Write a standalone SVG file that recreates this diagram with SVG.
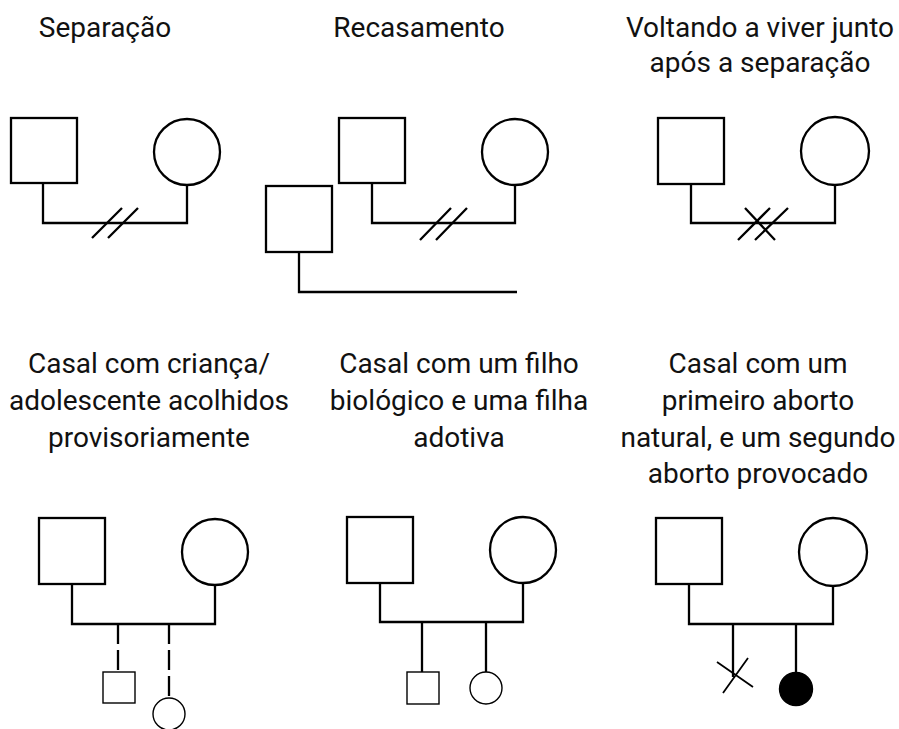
<svg xmlns="http://www.w3.org/2000/svg" width="899" height="729" viewBox="0 0 899 729">
<style>
  .bg{fill:#ffffff}
  .t{font-family:Roboto,"Open Sans","DejaVu Sans",sans-serif;font-size:28px;fill:#111111;text-anchor:middle}
  .n{fill:#ffffff;stroke:#000000;stroke-width:2.3}
  .c{fill:#ffffff;stroke:#000000;stroke-width:1.4}
  .f{fill:#000000;stroke:#000000;stroke-width:1.4}
  .l{fill:none;stroke:#000000;stroke-width:2.3}
  .d{fill:none;stroke:#000000;stroke-width:2.3;stroke-dasharray:20 6}
  .m{fill:none;stroke:#000000;stroke-width:1.8}
</style>
<rect class="bg" x="0" y="0" width="899" height="729"/>
<g id="labels">
  <text class="t" x="105" y="37">Separação</text>
  <text class="t" x="419" y="37">Recasamento</text>
  <text class="t" x="760" y="37">Voltando a viver junto</text>
  <text class="t" x="760" y="72">após a separação</text>
  <text class="t" x="149" y="373">Casal com criança/</text>
  <text class="t" x="149" y="410">adolescente acolhidos</text>
  <text class="t" x="149" y="447">provisoriamente</text>
  <text class="t" x="459" y="373">Casal com um filho</text>
  <text class="t" x="459" y="410">biológico e uma filha</text>
  <text class="t" x="459" y="447">adotiva</text>
  <text class="t" x="758" y="373">Casal com um</text>
  <text class="t" x="758" y="410">primeiro aborto</text>
  <text class="t" x="758" y="447">natural, e um segundo</text>
  <text class="t" x="758" y="483">aborto provocado</text>
</g>
<g id="connectors">
  <path class="l" d="M43,183 V223 H187 V185"/>
  <path class="l" d="M92,238 L122,208 M108,238 L138,208"/>
  <path class="l" d="M372,183 V223 H515 V185"/>
  <path class="l" d="M420,240 L451,208 M436,240 L467,208"/>
  <path class="l" d="M299,252 V292 H517"/>
  <path class="l" d="M691,184 V223 H835 V185"/>
  <path class="l" d="M738,240 L770,208 M745,208 L775,240 M755,240 L788,208"/>
  <path class="l" d="M72,584 V624 H215 V585"/>
  <path class="d" d="M118,624 V672"/>
  <path class="d" d="M169,624 V698"/>
  <path class="l" d="M380,583 V622 H523 V583"/>
  <path class="l" d="M422,622 V672"/>
  <path class="l" d="M486,622 V672"/>
  <path class="l" d="M689,584 V624 H833 V586"/>
  <path class="l" d="M733,624 V677"/>
  <path class="l" d="M796,624 V673"/>
</g>
<g id="sep-man"><rect class="n" x="11" y="118" width="66" height="65"/></g>
<g id="sep-woman"><circle class="n" cx="187" cy="152" r="33"/></g>
<g id="rec-man"><rect class="n" x="339" y="118" width="66" height="65"/></g>
<g id="rec-woman"><circle class="n" cx="515" cy="152" r="33"/></g>
<g id="rec-newman"><rect class="n" x="266" y="186" width="66" height="66"/></g>
<g id="volt-man"><rect class="n" x="658" y="118" width="66" height="66"/></g>
<g id="volt-woman"><circle class="n" cx="835" cy="151" r="34"/></g>
<g id="fost-man"><rect class="n" x="39" y="518" width="66" height="66"/></g>
<g id="fost-woman"><circle class="n" cx="215" cy="552" r="33"/></g>
<g id="fost-boy"><rect class="c" x="103" y="672" width="32" height="31"/></g>
<g id="fost-girl"><circle class="c" cx="169" cy="714" r="16"/></g>
<g id="adopt-man"><rect class="n" x="347" y="517" width="66" height="66"/></g>
<g id="adopt-woman"><circle class="n" cx="523" cy="550" r="33"/></g>
<g id="adopt-son"><rect class="c" x="407" y="672" width="32" height="32"/></g>
<g id="adopt-daughter"><circle class="c" cx="486" cy="688" r="16"/></g>
<g id="abort-man"><rect class="n" x="656" y="518" width="66" height="66"/></g>
<g id="abort-woman"><circle class="n" cx="833" cy="552" r="34"/></g>
<g id="abort-natural"><path class="m" d="M723,693 L748,658 M717,662 L753,687"/></g>
<g id="abort-induced"><circle class="f" cx="796" cy="689" r="16.5"/></g>
</svg>
